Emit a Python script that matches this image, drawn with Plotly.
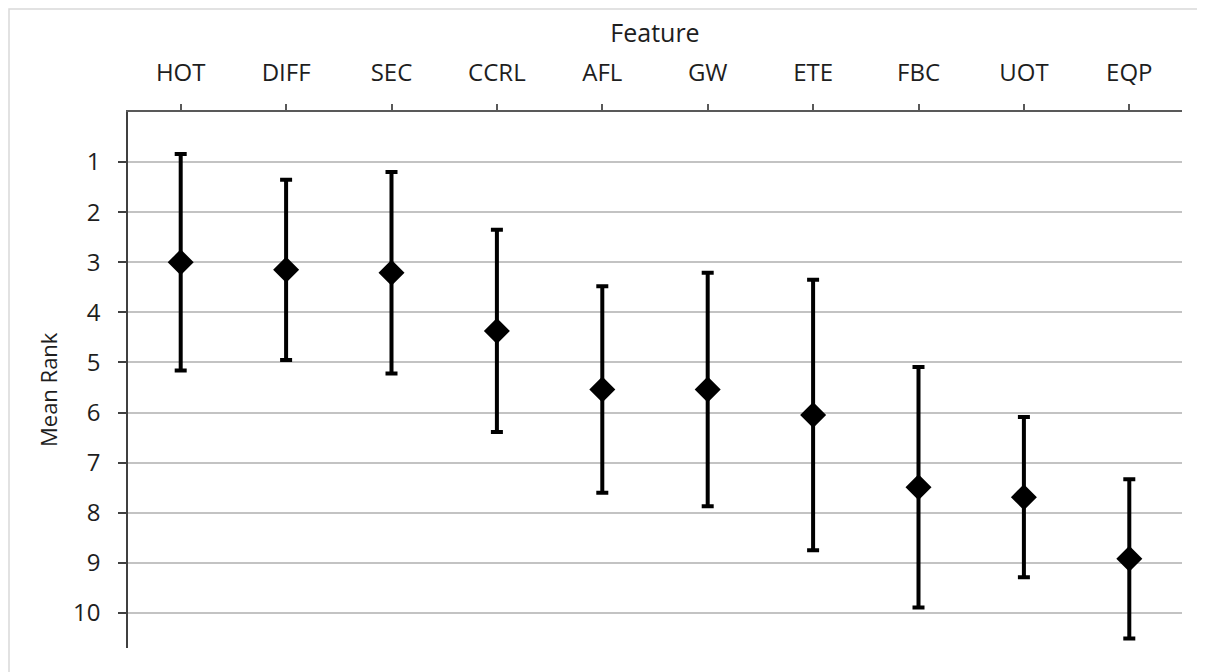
import plotly.graph_objects as go

features = ["HOT", "DIFF", "SEC", "CCRL", "AFL", "GW", "ETE", "FBC", "UOT", "EQP"]
mean_rank = [3.0, 3.15, 3.21, 4.37, 5.54, 5.54, 6.05, 7.49, 7.69, 8.92]
sd_rank = [2.16, 1.80, 2.01, 2.02, 2.06, 2.33, 2.70, 2.40, 1.60, 1.59]
y_ticks = [1, 2, 3, 4, 5, 6, 7, 8, 9, 10]

FONT = "Open Sans"
TXT = "#1e1e1e"

W, H = 1197, 664
L, R, T, B = 120, 23, 104, 24
PW, PH = W - L - R, H - T - B

fig = go.Figure()
fig.add_trace(go.Scatter(
    x=features, y=mean_rank, mode="markers",
    marker=dict(symbol="diamond", size=20, color="black"),
    error_y=dict(type="data", array=sd_rank, visible=True,
                 color="black", thickness=4, width=6),
    cliponaxis=False, showlegend=False,
))

fig.update_layout(
    width=W, height=H,
    margin=dict(l=L, r=R, t=T, b=B),
    paper_bgcolor="white", plot_bgcolor="white",
    font=dict(family=FONT, size=24, color=TXT),
    xaxis=dict(
        side="top", type="category", range=[-0.5, 9.5],
        showline=True, linecolor="#595959", linewidth=2,
        ticks="outside", ticklen=6, tickcolor="#595959", tickwidth=1.5,
        ticklabelstandoff=13,
        showgrid=False, zeroline=False,
        title=dict(text="Feature", font=dict(size=25, color=TXT), standoff=6),
    ),
    yaxis=dict(
        range=[10.7, 0], tickvals=y_ticks,
        showline=True, linecolor="#404040", linewidth=1.5,
        ticks="outside", ticklen=8, tickcolor="#404040", tickwidth=1.5,
        ticklabelstandoff=13,
        showgrid=True, gridcolor="#c3c3c3", gridwidth=1.5,
        zeroline=False,
    ),
    annotations=[dict(text="Mean Rank", textangle=-90, showarrow=False,
                      xref="paper", yref="paper", x=0, y=1 - 278 / PH,
                      xshift=-80, xanchor="center", yanchor="middle",
                      font=dict(size=22, color=TXT))],
    shapes=[dict(type="rect", xref="paper", yref="paper",
                 x0=-(L - 1) / PW, x1=1 + (R + 20) / PW,
                 y0=-(B + 20) / PH, y1=1 + (T - 1) / PH,
                 line=dict(color="#d9d9d9", width=1.5), layer="below")],
)

fig.write_html("out.html")
